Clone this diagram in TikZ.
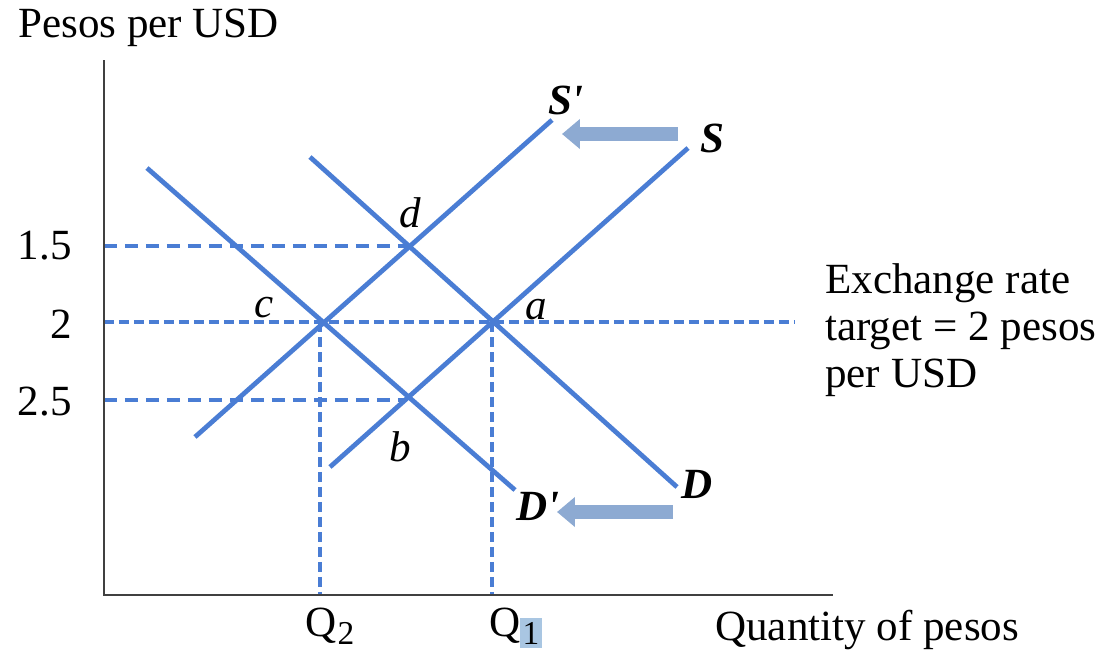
\documentclass[tikz,border=0pt]{standalone}
\usepackage{fontspec}
\setmainfont{Liberation Serif}
\usetikzlibrary{arrows.meta}
\definecolor{lineblue}{HTML}{4A7DD4}
\definecolor{arrowblue}{HTML}{8DAAD2}
\definecolor{axisgray}{HTML}{404040}
\definecolor{hilite}{HTML}{A9C6E2}
\begin{document}
\begin{tikzpicture}[x=0.02cm,y=-0.02cm,
  curve/.style={lineblue,line width=0.095cm},
  guide/.style={lineblue,line width=0.07cm,dash pattern=on 0.26cm off 0.16cm},
  guidefine/.style={lineblue,line width=0.07cm,dash pattern=on 0.2cm off 0.1cm},
  axisline/.style={axisgray,line width=0.045cm},
  shiftarrow/.style={arrowblue,line width=0.28cm,-{Triangle[length=0.36cm,width=0.58cm]}},
  txt/.style={font=\fontsize{24.5}{26.6}\selectfont,inner sep=0pt},
  subtxt/.style={font=\fontsize{19}{20}\selectfont,inner sep=0pt},
  lbl/.style={font=\fontsize{24.5}{26.6}\selectfont\itshape,inner sep=0pt},
  blbl/.style={font=\fontsize{24.5}{26.6}\selectfont\bfseries\itshape,inner sep=0pt}]
\useasboundingbox (0,0) rectangle (1107,650);
% coordinates
\coordinate (O) at (104,595);
\coordinate (ytop) at (104,60);
\coordinate (xend) at (833,595);
\coordinate (pa) at (492,322);
\coordinate (pb) at (406,400);
\coordinate (pc) at (320,322);
\coordinate (pd) at (409,246);
\coordinate (S0) at (330,467);
\coordinate (S1) at (688,148);
\coordinate (Sp0) at (195,437);
\coordinate (Sp1) at (552,120);
\coordinate (D0) at (310,157);
\coordinate (D1) at (677,487);
\coordinate (Dp0) at (147,168);
\coordinate (Dp1) at (515,490);
\coordinate (y15) at (104,246);
\coordinate (y2) at (104,322);
\coordinate (y25) at (104,400);
\coordinate (y2end) at (795,322);
\coordinate (q2) at (320,595);
\coordinate (q1) at (492,595);
% guides
\draw[guide] (y15) -- (pd);
\draw[guide] (y25) -- (pb);
\draw[guidefine] (y2) -- (y2end);
\draw[guidefine] (pc) -- (q2);
\draw[guidefine] (pa) -- (q1);
% axes
\draw[axisline] (ytop) -- (O) -- (xend);
% curves
\draw[curve] (S0) -- (S1);
\draw[curve] (Sp0) -- (Sp1);
\draw[curve] (D0) -- (D1);
\draw[curve] (Dp0) -- (Dp1);
% shift arrows
\coordinate (a1s) at (678,134);
\coordinate (a1e) at (562,134);
\coordinate (a2s) at (673,512);
\coordinate (a2e) at (557,512);
\draw[shiftarrow] (a1s) -- (a1e);
\draw[shiftarrow] (a2s) -- (a2e);
% labels
\node[txt,anchor=west] (ylab) at (18,28) {Pesos per USD};
\node[txt,anchor=east] (l15) at (72,246) {1.5};
\node[txt,anchor=east] (l2) at (72,324) {2};
\node[txt,anchor=east] (l25) at (72,402) {2.5};
\node[txt] (lq2q) at (321,626) {Q};
\node[subtxt] (lq2s) at (346,633) {2};
\node[txt] (lq1q) at (505,626) {Q};
\node[subtxt,fill=hilite,inner xsep=1.5pt,inner ysep=2pt] (lq1s) at (531,633) {1};
\node[txt,anchor=west] (xlab) at (715,630) {Quantity of pesos};
\node[txt,anchor=west,align=left] (target) at (825,330) {Exchange rate\\target = 2 pesos\\per USD};
\node[blbl] (lSp) at (566,100) {S\textquotesingle};
\node[blbl] (lS) at (712,138) {S};
\node[blbl] (lD) at (697,484) {D};
\node[blbl] (lDp) at (538,506) {D\textquotesingle};
\node[lbl] (ld) at (410,213) {d};
\node[lbl] (lc) at (264,308) {c};
\node[lbl] (la) at (536,310) {a};
\node[lbl] (lb) at (400,447) {b};
\end{tikzpicture}
\end{document}
